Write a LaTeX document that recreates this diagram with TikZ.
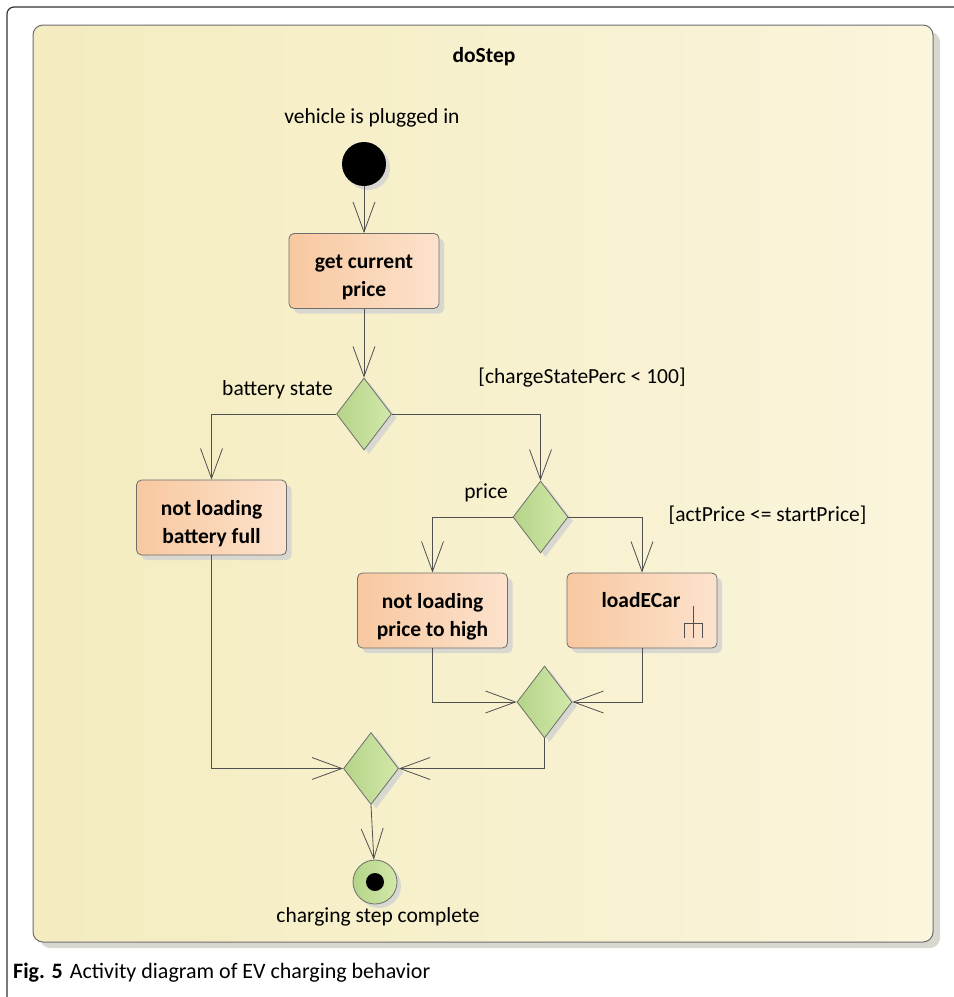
\documentclass[tikz,border=0pt]{standalone}
\usepackage{fontspec}
\setmainfont{Carlito}
\usetikzlibrary{arrows.meta,shapes.geometric,shadows,calc}
\definecolor{panelL}{HTML}{F4ECBF}
\definecolor{panelR}{HTML}{FAF5DC}
\definecolor{actL}{HTML}{F8C8A0}
\definecolor{actR}{HTML}{FCE2CC}
\definecolor{decL}{HTML}{B4D488}
\definecolor{decR}{HTML}{D3E8AA}
\definecolor{shad}{HTML}{D8D8D0}
\definecolor{edgec}{HTML}{6E6E6E}
\definecolor{linec}{HTML}{505050}
\tikzset{
  lbl/.style={font=\fontsize{21.5}{25}\selectfont, inner sep=0pt},
  actbox/.style={rectangle, rounded corners=5pt, minimum width=150pt, minimum height=75pt,
    left color=actL, right color=actR, draw=edgec, line width=0.8pt, inner sep=0pt,
    drop shadow={shadow xshift=5pt, shadow yshift=-5pt, fill=shad, opacity=1}},
  acttext/.style={align=center, inner sep=0pt, font=\bfseries\fontsize{21.5}{28}\selectfont},
  decnode/.style={diamond, minimum width=55pt, minimum height=72pt, inner sep=0pt,
    left color=decL, right color=decR, draw=edgec, line width=0.8pt,
    drop shadow={shadow xshift=5pt, shadow yshift=-4pt, fill=shad, opacity=1}},
  flow/.style={draw=linec, line width=0.8pt, -{Straight Barb[length=30pt,width=22pt,line width=0.8pt]}},
}
\begin{document}
\begin{tikzpicture}[x=1pt,y=-1pt]
\useasboundingbox (0,0) rectangle (954,997);
\fill[white] (0,0) rectangle (954,997);
% outer frame
\draw[line width=1.2pt, draw=black!80, rounded corners=7pt] (7,997) -- (7,7) -- (954,7);
% panel
\fill[shad, rounded corners=10pt] (40,32) rectangle (940,948);
\shade[left color=panelL, right color=panelR, rounded corners=10pt] (33,25) rectangle (933,942);
\draw[edgec, line width=1pt, rounded corners=10pt] (33,25) rectangle (933,942);
\node[font=\bfseries\fontsize{21.5}{25}\selectfont] (title) at (484,57) {doStep};
% start
\node[lbl] (startlbl) at (372,118) {vehicle is plugged in};
\node[circle, fill=black, minimum size=44pt, inner sep=0pt,
  drop shadow={shadow xshift=4pt, shadow yshift=-4pt, fill=shad, opacity=1}] (start) at (364,164) {};
% actions
\node[actbox] (gcp) at (364,271) {};
\node[acttext] (gcpt) at ($(gcp.center)+(0,6)$) {get current\\price};
\node[decnode] (d1) at (364,414) {};
\node[lbl, anchor=east] (bslbl) at (333,390) {battery state};
\node[lbl] (cslbl) at (582,378) {[chargeStatePerc < 100]};
\node[actbox] (bf) at (211.5,517.5) {};
\node[acttext] (bft) at ($(bf.center)+(0,6)$) {not loading\\battery full};
\node[decnode] (d2) at (540.5,517) {};
\node[lbl, anchor=east] (prlbl) at (508,493) {price};
\node[lbl] (aplbl) at (767.5,515) {[actPrice <= startPrice]};
\node[actbox] (np) at (432.5,610.5) {};
\node[acttext] (npt) at ($(np.center)+(0,6)$) {not loading\\price to high};
\node[actbox] (lc) at (642,610.5) {};
\node[acttext] (lct) at (641,600) {loadECar};
\draw[linec, line width=0.8pt] (693,606) -- (693,638) (684,638) -- (684,623) -- (702,623) -- (702,638);
\node[decnode] (m1) at (544.5,702) {};
\node[decnode] (m2) at (371,768.5) {};
% final
\node[circle, minimum size=44pt, inner sep=0pt, left color=decL, right color=decR, draw=edgec, line width=0.8pt,
  drop shadow={shadow xshift=4pt, shadow yshift=-4pt, fill=shad, opacity=1}] (fin) at (375,882) {};
\node[circle, fill=black, minimum size=18pt, inner sep=0pt] (findot) at (fin.center) {};
\node[lbl] (finlbl) at (378,917) {charging step complete};
% connectors
\draw[flow] (start) -- (gcp.north);
\draw[flow] (gcp.south) -- (d1.north);
\draw[flow] (d1.west) -| (bf.north);
\draw[flow] (d1.east) -| (d2.north);
\draw[flow] (d2.west) -| (np.north);
\draw[flow] (d2.east) -| (lc.north);
\draw[flow] (np.south) |- (m1.west);
\draw[flow] (lc.south) |- (m1.east);
\draw[flow] (bf.south) |- (m2.west);
\draw[flow] (m1.south) |- (m2.east);
\draw[flow] (m2.south) -- (fin);
% caption
\node[anchor=west, inner sep=0pt, font=\fontsize{22}{26}\selectfont] (cap) at (13,973) {\textbf{Fig. 5}\hspace{7pt}Activity diagram of EV charging behavior};
\end{tikzpicture}
\end{document}
